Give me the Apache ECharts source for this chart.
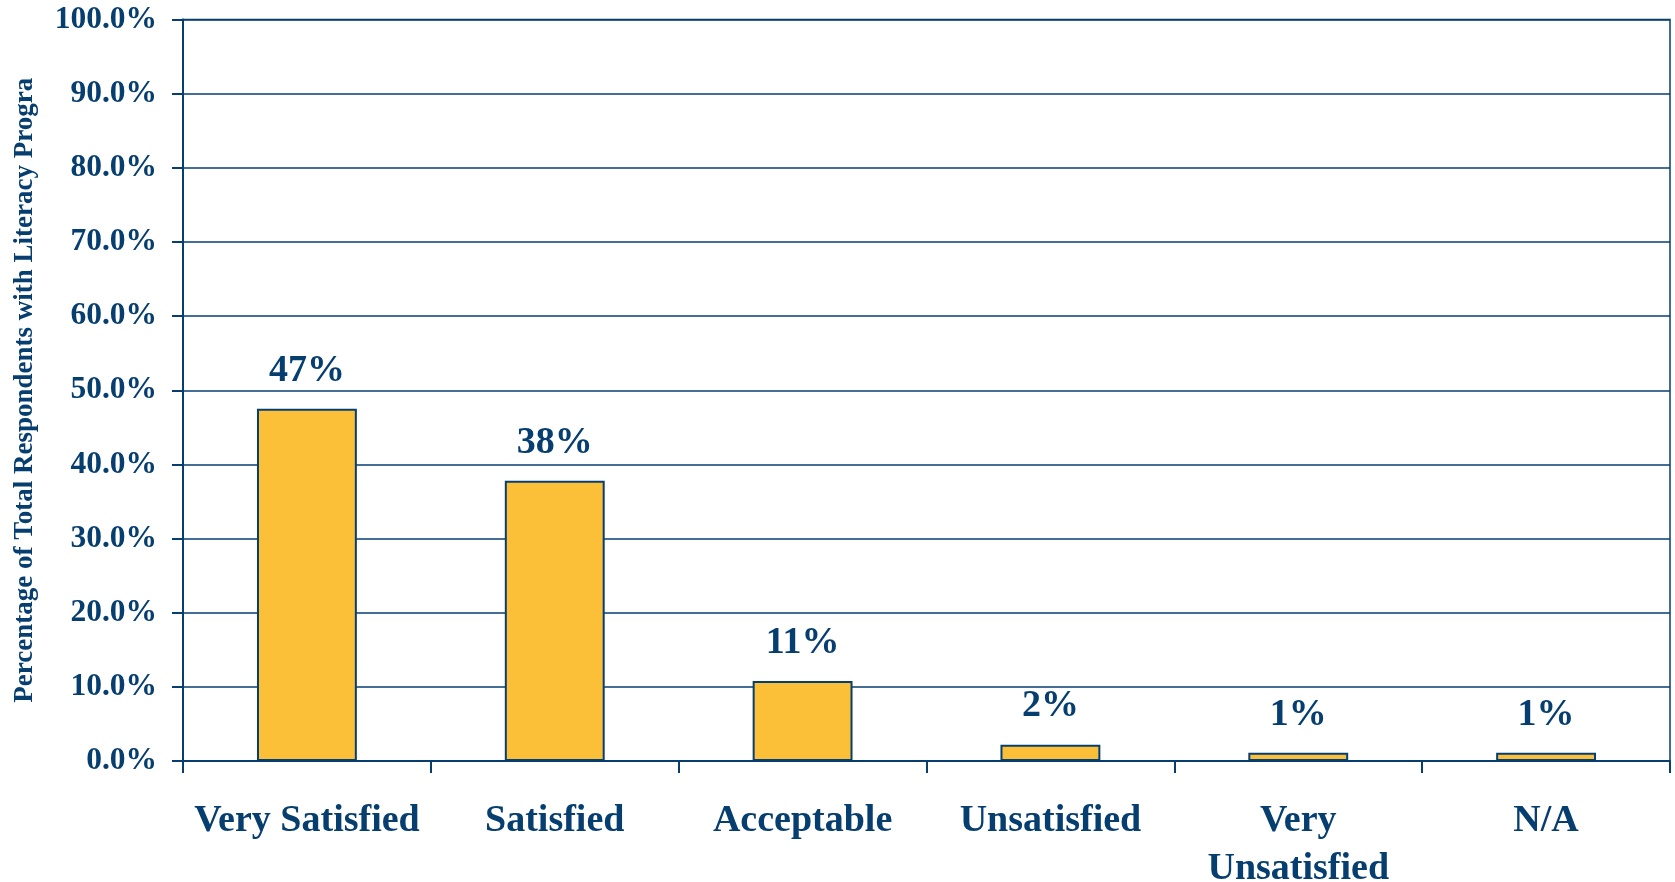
<!DOCTYPE html>
<html>
<head>
<meta charset="utf-8">
<script src="https://cdn.jsdelivr.net/npm/echarts@6/dist/echarts.min.js"></script>
<style>
html,body{margin:0;padding:0;background:#fff;}
#chart{width:1675px;height:882px;}
</style>
</head>
<body>
<div id="chart"></div>
<script>
const categories = ['Very Satisfied', 'Satisfied', 'Acceptable', 'Unsatisfied', 'Very\nUnsatisfied', 'N/A'];
const values = [47.5, 37.8, 10.8, 2.2, 1.1, 1.1];
const valueLabels = ['47%', '38%', '11%', '2%', '1%', '1%'];
const yAxisTitle = 'Percentage of Total Respondents with Literacy Programs';

const NAVY = '#063e70';
const FONT = '"Liberation Serif", "Times New Roman", serif';

const chart = echarts.init(document.getElementById('chart'), null, {renderer: 'canvas'});
chart.setOption({
  animation: false,
  backgroundColor: '#ffffff',
  grid: {left: 183, right: 5, top: 19.5, bottom: 121, show: true, borderColor: NAVY, borderWidth: 1.5,
         containLabel: false, outerBoundsMode: 'none'},
  xAxis: {
    type: 'category',
    data: categories,
    boundaryGap: true,
    axisLine: {show: true, lineStyle: {color: NAVY, width: 2}},
    axisTick: {show: true, length: 12, inside: false, lineStyle: {color: NAVY, width: 2}},
    axisLabel: {
      color: NAVY, fontFamily: FONT, fontWeight: 'bold', fontSize: 38,
      lineHeight: 48, margin: 36, interval: 0
    }
  },
  yAxis: {
    type: 'value',
    min: 0, max: 100, interval: 10,
    name: yAxisTitle,
    nameLocation: 'middle',
    nameRotate: 90,
    nameGap: 144,
    nameTruncate: {maxWidth: 639, ellipsis: ''},
    nameTextStyle: {color: NAVY, fontFamily: FONT, fontWeight: 'bold', fontSize: 27},
    axisLine: {show: true, lineStyle: {color: NAVY, width: 2}},
    axisTick: {show: true, length: 11, lineStyle: {color: NAVY, width: 2}},
    splitLine: {show: true, lineStyle: {color: NAVY, width: 1.5}},
    axisLabel: {
      color: NAVY, fontFamily: FONT, fontWeight: 'bold', fontSize: 31.5, margin: 26,
      formatter: v => v.toFixed(1) + '%'
    }
  },
  series: [{
    type: 'bar',
    data: values,
    barWidth: '40.3%',
    itemStyle: {color: '#fbc038', borderColor: NAVY, borderWidth: 2},
    label: {
      show: true, position: 'top', distance: 19,
      color: NAVY, fontFamily: FONT, fontWeight: 'bold', fontSize: 38,
      formatter: p => valueLabels[p.dataIndex]
    }
  }]
});
</script>
</body>
</html>
